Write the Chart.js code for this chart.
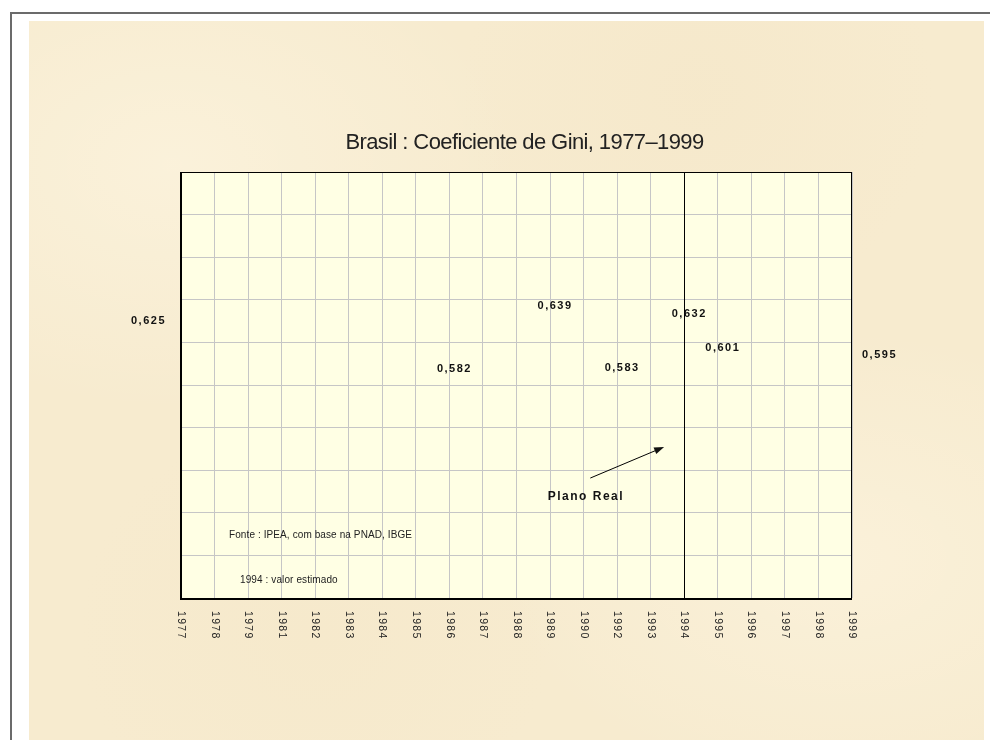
<!DOCTYPE html>
<html>
<head>
<meta charset="utf-8">
<script src="https://cdn.jsdelivr.net/npm/chart.js@4.4.1/dist/chart.umd.min.js"></script>
<style>
  body { margin: 0; background: #ffffff; width: 990px; height: 740px; overflow: hidden; position: relative; }
  #frame { position: absolute; left: 10px; top: 12px; right: 0; bottom: 0; border-left: 2px solid #6b6b6b; border-top: 2px solid #6b6b6b; }
  #paper {
    position: absolute; left: 29px; top: 21px; width: 955px; height: 719px;
    background-color: #f7ebcf;
    background-image:
      radial-gradient(ellipse at 15% 20%, rgba(255,249,232,0.45), transparent 30%),
      radial-gradient(ellipse at 70% 10%, rgba(243,228,196,0.35), transparent 25%),
      radial-gradient(ellipse at 85% 75%, rgba(255,248,230,0.45), transparent 30%),
      radial-gradient(ellipse at 30% 85%, rgba(244,230,198,0.35), transparent 25%);
  }
  canvas { position: absolute; left: 0; top: 0; }
</style>
</head>
<body>
<div id="frame"></div>
<div id="paper"></div>
<canvas id="giniChart" width="990" height="740"></canvas>
<script>
// --- DATA ---
// anos da PNAD (sem 1980 e 1991)
const years = ['1977', '1978', '1979', '1981', '1982', '1983', '1984', '1985', '1986', '1987',
               '1988', '1989', '1990', '1992', '1993', '1994', '1995', '1996', '1997', '1998', '1999'];
// so os valores rotulados no grafico
const gini = [0.625, null, null, null, null, null, null, null, 0.582, null,
              null, 0.639, null, 0.583, null, 0.632, 0.601, null, null, null, 0.595];

const chartTitle = 'Brasil : Coeficiente de Gini, 1977–1999';
const sourceNote = 'Fonte : IPEA, com base na PNAD, IBGE';
const estimateNote = '1994 : valor estimado';
const planoRealYear = '1994';
const planoRealText = 'Plano Real';

const plotBg = '#ffffe4';
const gridColor = '#c6c6c6';
const fmt = v => v.toFixed(3).replace('.', ',');

// Desenha fundo, moldura, rotulos e anotacoes
const giniDecor = {
    id: 'giniDecor',
    beforeDraw(chart) {
        const { ctx, chartArea: a } = chart;
        ctx.save();
        ctx.fillStyle = plotBg;
        ctx.fillRect(a.left, a.top, a.right - a.left, a.bottom - a.top);
        ctx.restore();
    },
    afterDraw(chart) {
        const { ctx, chartArea: a } = chart;
        const xs = chart.scales.x, ys = chart.scales.y;
        ctx.save();

        // linha do Plano Real
        const xr = Math.round(xs.getPixelForValue(years.indexOf(planoRealYear))) + 0.5;
        ctx.strokeStyle = '#000';
        ctx.lineWidth = 1;
        ctx.beginPath();
        ctx.moveTo(xr, a.top);
        ctx.lineTo(xr, a.bottom);
        ctx.stroke();

        // moldura da area do grafico
        ctx.strokeRect(a.left + 0.5, a.top + 0.5, a.right - a.left - 1, a.bottom - a.top);
        ctx.lineWidth = 2;
        ctx.beginPath();
        ctx.moveTo(a.left, a.top);
        ctx.lineTo(a.left, a.bottom + 1);
        ctx.lineTo(a.right, a.bottom + 1);
        ctx.stroke();

        // rotulos de valor
        ctx.fillStyle = '#111';
        ctx.font = 'bold 11px "Liberation Sans", Arial, sans-serif';
        ctx.letterSpacing = '1.5px';
        ctx.textBaseline = 'middle';
        const meta = chart.getDatasetMeta(0);
        gini.forEach((v, i) => {
            if (v == null) return;
            const p = meta.data[i];
            let x = p.x;
            if (i === 0) { ctx.textAlign = 'right'; x -= 15; }
            else if (i === gini.length - 1) { ctx.textAlign = 'left'; x += 10; }
            else { ctx.textAlign = 'center'; x += 5; }
            ctx.fillText(fmt(v), x, p.y);
        });

        // seta + texto Plano Real
        const tx = xs.getPixelForValue(12.2), ty = ys.getPixelForValue(0.4834);
        const hx = xs.getPixelForValue(14.4), hy = ys.getPixelForValue(0.5115);
        const ang = Math.atan2(hy - ty, hx - tx);
        ctx.lineWidth = 1;
        ctx.beginPath();
        ctx.moveTo(tx, ty);
        ctx.lineTo(hx - 8 * Math.cos(ang), hy - 8 * Math.sin(ang));
        ctx.stroke();
        ctx.beginPath();
        ctx.moveTo(hx, hy);
        ctx.lineTo(hx - 10 * Math.cos(ang) + 3.5 * Math.sin(ang), hy - 10 * Math.sin(ang) - 3.5 * Math.cos(ang));
        ctx.lineTo(hx - 10 * Math.cos(ang) - 3.5 * Math.sin(ang), hy - 10 * Math.sin(ang) + 3.5 * Math.cos(ang));
        ctx.closePath();
        ctx.fill();
        ctx.font = 'bold 12px "Liberation Sans", Arial, sans-serif';
        ctx.textAlign = 'center';
        ctx.fillText(planoRealText, xs.getPixelForValue(12.07), ys.getPixelForValue(0.467));

        // notas
        ctx.fillStyle = '#222';
        ctx.font = '10px "Liberation Sans", Arial, sans-serif';
        ctx.letterSpacing = '0.1px';
        ctx.textAlign = 'left';
        ctx.fillText(sourceNote, xs.getPixelForValue(1.43), ys.getPixelForValue(0.432));
        ctx.fillText(estimateNote, xs.getPixelForValue(1.76), ys.getPixelForValue(0.391));

        // anos na vertical (lidos de cima para baixo)
        ctx.fillStyle = '#222';
        ctx.font = '10.5px "Liberation Sans", Arial, sans-serif';
        ctx.letterSpacing = '1.3px';
        years.forEach((yr, i) => {
            ctx.save();
            ctx.translate(xs.getPixelForValue(i), a.bottom + 13);
            ctx.rotate(Math.PI / 2);
            ctx.textAlign = 'left';
            ctx.textBaseline = 'middle';
            ctx.fillText(yr, 0, 0);
            ctx.restore();
        });

        // titulo
        ctx.fillStyle = '#222';
        ctx.font = '22px "Liberation Sans", Arial, sans-serif';
        ctx.letterSpacing = '-0.6px';
        ctx.textAlign = 'center';
        ctx.fillText(chartTitle, (a.left + a.right) / 2 + 8, a.top - 29);

        ctx.restore();
    }
};

new Chart(document.getElementById('giniChart'), {
    type: 'line',
    data: {
        labels: years,
        datasets: [{
            label: 'Gini',
            data: gini,
            borderColor: 'rgba(0,0,0,0)',
            pointRadius: 0,
            spanGaps: true
        }]
    },
    options: {
        responsive: false,
        animation: false,
        layout: { padding: { left: 181, top: 172, right: 138, bottom: 142 } },
        scales: {
            x: {
                offset: false,
                ticks: { display: false },
                grid: { color: gridColor, drawTicks: false },
                border: { display: false }
            },
            y: {
                min: 0.375,
                max: 0.76,
                ticks: { display: false, count: 11 },
                grid: { color: gridColor, drawTicks: false },
                border: { display: false }
            }
        },
        plugins: {
            legend: { display: false },
            tooltip: { enabled: false }
        }
    },
    plugins: [giniDecor]
});
</script>
</body>
</html>
